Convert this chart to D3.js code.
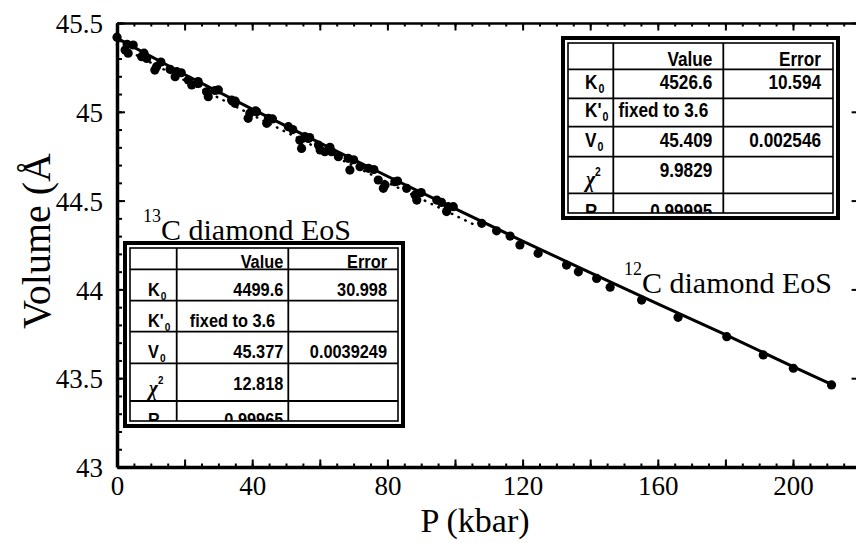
<!DOCTYPE html>
<html>
<head>
<meta charset="utf-8">
<script src="https://cdn.jsdelivr.net/npm/d3@7"></script>
<style>
  body { margin: 0; background: #fff; }
  svg text { fill: #000; }
</style>
</head>
<body>
<div id="chart"></div>
<script>
var WIDTH = 856;
var HEIGHT = 543;

// 12C diamond data (P in kbar, V in A^3)
var c12P = [0, 3, 8, 13, 19, 24, 29, 35, 41, 46, 52, 57, 63, 70, 76, 83, 90, 96,
            107.9, 112.3, 116.3, 119.2, 124.6, 133.0, 136.5, 141.9, 145.9, 155.2, 166.0, 180.4, 191.2, 200.1, 211.4];
var c12V = [45.42, 45.38, 45.33, 45.28, 45.22, 45.17, 45.12, 45.06, 45.005, 44.96, 44.90, 44.855, 44.80, 44.73, 44.675, 44.61, 44.545, 44.49,
            44.372, 44.33, 44.30, 44.25, 44.203, 44.137, 44.099, 44.062, 44.012, 43.94, 43.843, 43.734, 43.631, 43.556, 43.462];

// 13C diamond data
var c13P = [2.4, 3.3, 4.8, 7.3, 8.8, 11.2, 11.7, 15.7, 17.2, 17.7, 21.1, 22.1, 24.1, 26.5, 27.0, 30.0, 33.9, 34.9,
            38.8, 39.3, 41.3, 44.3, 44.8, 50.7, 54.1, 54.6, 55.6, 56.6, 59.6, 60.1, 61.5, 63.5, 65.5, 68.4, 68.9,
            71.9, 74.4, 77.3, 78.8, 79.3, 82.2, 85.7, 88.2, 88.7, 94.6, 97.5, 98.0, 99.5];
var c13V = [45.348, 45.33, 45.376, 45.31, 45.30, 45.235, 45.254, 45.239, 45.198, 45.226, 45.179, 45.151, 45.16, 45.113, 45.085, 45.123, 45.066, 45.048,
            44.963, 44.992, 45.0, 44.935, 44.963, 44.916, 44.84, 44.794, 44.86, 44.85, 44.813, 44.785, 44.775, 44.775, 44.747, 44.738, 44.672,
            44.691, 44.682, 44.616, 44.569, 44.588, 44.606, 44.569, 44.532, 44.503, 44.503, 44.438, 44.466, 44.466];

// fitted EoS curves
var fit12P = [0, 20, 40, 60, 80, 100, 120, 140, 160, 180, 200, 211.4];
var fit12V = [45.415, 45.21, 45.015, 44.825, 44.637, 44.455, 44.272, 44.094, 43.918, 43.745, 43.565, 43.465];
var fit13P = [0, 20, 40, 60, 80, 100, 106];
var fit13V = [45.377, 45.177, 44.982, 44.790, 44.602, 44.417, 44.362];

var xTicks = [0, 40, 80, 120, 160, 200];
var yTicks = [43, 43.5, 44, 44.5, 45, 45.5];

// fit tables
var rowLabels = ["K", "K'", "V", "\u03c7", "R"];
var rowSubs = ["0", "0", "0", "", ""];
var t12Value = ["4526.6", "fixed to 3.6", "45.409", "9.9829", "0.99995"];
var t12Error = ["10.594", "", "0.002546", "", ""];
var t13Value = ["4499.6", "fixed to 3.6", "45.377", "12.818", "0.99965"];
var t13Error = ["30.998", "", "0.0039249", "", ""];

var SERIF = "'Liberation Serif', 'Times New Roman', serif";
var SANS = "'Liberation Sans', Arial, sans-serif";

var SVG = d3.select("#chart").append("svg")
    .attr("width", WIDTH)
    .attr("height", HEIGHT);

var x = d3.scaleLinear().domain([0, 220]).range([117, 860.6]);
var y = d3.scaleLinear().domain([43, 45.5]).range([467, 23]);

var minorX = d3.range(0, 221, 5);
var medX = d3.range(0, 221, 20);
var minorY = d3.range(43, 45.51, 0.1);

function styleAxis(g, width) {
    g.select(".domain").attr("stroke", "#000").attr("stroke-width", width);
    g.selectAll(".tick line").attr("stroke", "#000").attr("stroke-width", 2);
}

// bottom axis
var gb = SVG.append("g").attr("transform", "translate(0," + y(43) + ")");
gb.append("g").call(d3.axisBottom(x).tickValues(minorX).tickSize(-3.5).tickSizeOuter(0).tickFormat(""))
    .call(styleAxis, 3.5);
gb.append("g").call(d3.axisBottom(x).tickValues(medX).tickSize(-7.5).tickFormat(""))
    .call(g => g.select(".domain").remove())
    .call(styleAxis, 3);
gb.append("g").call(d3.axisBottom(x).tickValues(xTicks).tickSize(0).tickPadding(9))
    .call(g => g.select(".domain").remove())
    .selectAll("text").attr("font-family", SERIF).attr("font-size", 27);

// top axis
var gt = SVG.append("g").attr("transform", "translate(0," + y(45.5) + ")");
gt.append("g").call(d3.axisTop(x).tickValues(minorX).tickSize(-3.5).tickSizeOuter(0).tickFormat(""))
    .call(styleAxis, 2.5);
gt.append("g").call(d3.axisTop(x).tickValues(medX).tickSize(-7.5).tickFormat(""))
    .call(g => g.select(".domain").remove())
    .call(styleAxis, 2.5);

// left axis
var gl = SVG.append("g").attr("transform", "translate(" + x(0) + ",0)");
gl.append("g").call(d3.axisLeft(y).tickValues(minorY).tickSize(-5).tickSizeOuter(0).tickFormat(""))
    .call(styleAxis, 3.5);
gl.append("g").call(d3.axisLeft(y).tickValues(yTicks).tickSize(-8).tickFormat(""))
    .call(g => g.select(".domain").remove())
    .call(styleAxis, 3);
gl.append("g").call(d3.axisLeft(y).tickValues(yTicks).tickSize(0).tickPadding(14)
        .tickFormat(d => d3.format("")(d)))
    .call(g => g.select(".domain").remove())
    .selectAll("text").attr("font-family", SERIF).attr("font-size", 27).attr("dy", "0.36em");

// right axis (frame edge sits just outside the picture)
var gr = SVG.append("g").attr("transform", "translate(" + x(220) + ",0)");
gr.append("g").call(d3.axisRight(y).tickValues(minorY).tickSize(-3).tickSizeOuter(0).tickFormat(""))
    .call(styleAxis, 3);
gr.append("g").call(d3.axisRight(y).tickValues(yTicks).tickSize(-9).tickFormat(""))
    .call(g => g.select(".domain").remove())
    .call(styleAxis, 3);

// axis titles
SVG.append("text")
    .attr("x", 475).attr("y", 532)
    .attr("text-anchor", "middle")
    .attr("font-family", SERIF).attr("font-size", 34)
    .text("P (kbar)");

SVG.append("text")
    .attr("transform", "translate(50,153) rotate(-90)")
    .attr("text-anchor", "end")
    .attr("font-family", SERIF).attr("font-size", 40)
    .text("Volume (\u00c5");

// fit lines
var line = d3.line().x(d => x(d[0])).y(d => y(d[1]));

SVG.append("path")
    .datum(d3.zip(fit13P, fit13V))
    .attr("d", line)
    .attr("fill", "none")
    .attr("stroke", "#000")
    .attr("stroke-width", 2.5)
    .attr("stroke-linecap", "round")
    .attr("stroke-dasharray", "0.5,7");

SVG.append("path")
    .datum(d3.zip(fit12P, fit12V))
    .attr("d", line)
    .attr("fill", "none")
    .attr("stroke", "#000")
    .attr("stroke-width", 3);

// data points
SVG.append("g").selectAll("circle")
    .data(d3.zip(c13P, c13V).concat(d3.zip(c12P, c12V)))
    .enter().append("circle")
    .attr("cx", d => x(d[0]))
    .attr("cy", d => y(d[1]))
    .attr("r", 4.6)
    .attr("fill", "#000");

// tables
function drawTable(opt, values, errors) {
    var g = SVG.append("g");
    var ix0 = opt.x0 + 5, ix1 = opt.x1 - 5, iy0 = opt.y0 + 5, iy1 = opt.y1 - 5;
    var id = "clip" + opt.x0;

    g.append("clipPath").attr("id", id)
      .append("rect").attr("x", ix0).attr("y", iy0).attr("width", ix1 - ix0).attr("height", iy1 - iy0);

    g.append("rect")
        .attr("x", opt.x0).attr("y", opt.y0)
        .attr("width", opt.x1 - opt.x0).attr("height", opt.y1 - opt.y0)
        .attr("fill", "#fff").attr("stroke", "#000").attr("stroke-width", 4);

    var inner = g.append("g").attr("clip-path", "url(#" + id + ")");
    var rows = opt.rows; // row boundaries, header first

    // grid
    rows.slice(1).forEach(function(r) {
        inner.append("line").attr("x1", ix0).attr("x2", ix1).attr("y1", r).attr("y2", r)
            .attr("stroke", "#000").attr("stroke-width", 1.8);
    });
    opt.cols.forEach(function(c) {
        inner.append("line").attr("x1", c).attr("x2", c).attr("y1", iy0).attr("y2", iy1 + 10)
            .attr("stroke", "#000").attr("stroke-width", 1.8);
    });

    var fs = opt.fontSize;
    // condensed bold text: squeeze horizontally around the anchor point
    function txt(xp, yp, s, anchor, size, fam) {
        return inner.append("text")
            .attr("transform", "translate(" + xp + "," + yp + ") scale(" + opt.squeeze + ",1)")
            .attr("text-anchor", anchor || "end")
            .attr("font-family", fam || SANS).attr("font-weight", "bold")
            .attr("font-size", size || fs).text(s);
    }

    // header
    txt(opt.cols[1] - opt.padV, rows[1] - opt.headPad, "Value");
    txt(ix1 - opt.padE, rows[1] - opt.headPad, "Error");

    for (var i = 0; i < 5; i++) {
        var top = rows[i + 1], bot = rows[i + 2];
        var base = bot - opt.basePad;
        if (i === 3) base = top + opt.chiPad;
        if (i === 4) base = top + 25;

        // row label
        var lx = ix0 + opt.labelX;
        if (i === 3) {
            txt(lx + 1, bot - 6, rowLabels[i], "start", fs + 3, SERIF).attr("font-style", "italic");
            txt(lx + 10, bot - 17, "2", "start", fs * 0.6);
        } else {
            var t = txt(lx, base, rowLabels[i], "start");
            if (rowSubs[i]) {
                var w = t.node().getComputedTextLength() * opt.squeeze;
                txt(lx + w + 1, base + 4, rowSubs[i], "start", fs * 0.62);
            }
        }

        if (values[i].indexOf("fixed") === 0) {
            txt((opt.cols[0] + opt.cols[1]) / 2 + opt.fixShift, base, values[i], "middle");
        } else {
            txt(opt.cols[1] - opt.padV, base, values[i]);
        }
        if (errors[i]) txt(ix1 - opt.padE, base, errors[i]);
    }

    g.append("rect")
        .attr("x", ix0).attr("y", iy0)
        .attr("width", ix1 - ix0).attr("height", iy1 - iy0)
        .attr("fill", "none").attr("stroke", "#000").attr("stroke-width", 1.6);
}

drawTable({
    x0: 563, y0: 38, x1: 838, y1: 218,
    rows: [43, 69.3, 98.3, 126.7, 156.7, 193.3, 224],
    cols: [613.3, 723.3],
    fontSize: 20, squeeze: 0.86, padV: 11, padE: 12, headPad: 3, basePad: 9.5, chiPad: 20, labelX: 17, fixShift: -5
}, t12Value, t12Error);

drawTable({
    x0: 125, y0: 243, x1: 403, y1: 426,
    rows: [248, 269.3, 300.7, 331.7, 363.3, 401, 430],
    cols: [176.7, 288.3],
    fontSize: 19, squeeze: 0.86, padV: 5, padE: 11, headPad: 1.5, basePad: 5, chiPad: 27, labelX: 18, fixShift: 0
}, t13Value, t13Error);

// annotations
function label(xp, yp, iso) {
    var t = SVG.append("text")
        .attr("x", xp).attr("y", yp)
        .attr("font-family", SERIF).attr("font-size", 30);
    t.append("tspan").attr("font-size", 18).attr("dy", -18).text(iso);
    t.append("tspan").attr("dy", 18).text("C diamond EoS");
}
label(624, 293, "12");
label(143, 240, "13");
</script>
</body>
</html>
